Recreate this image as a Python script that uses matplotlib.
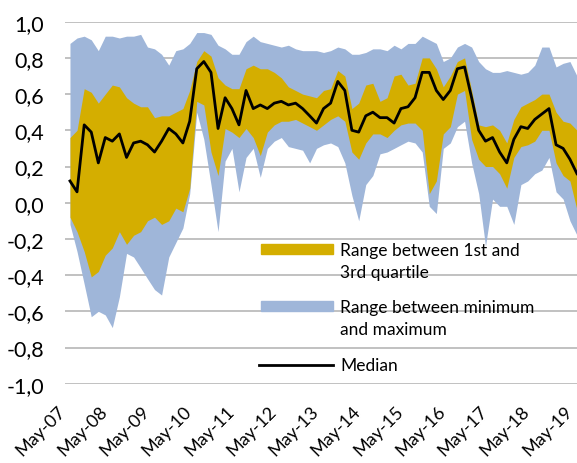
import numpy as np
import pandas as pd
import matplotlib
matplotlib.use('Agg')
import matplotlib.pyplot as plt
import matplotlib.dates as mdates
import matplotlib.transforms as mtransforms
from matplotlib.patches import Rectangle
from matplotlib.lines import Line2D

plt.rcParams['font.family'] = ['Lato', 'DejaVu Sans']

### data: bi-monthly readings, May-07 .. May-19
dates = pd.date_range('2007-05-01', '2019-05-01', freq='2MS')

maxv = [0.88, 0.91, 0.92, 0.90, 0.84, 0.92, 0.92, 0.91, 0.92, 0.92, 0.93,
        0.86, 0.85, 0.82, 0.76, 0.84, 0.85, 0.88, 0.94, 0.94, 0.93,
        0.87, 0.85, 0.82, 0.82, 0.89, 0.92, 0.89, 0.88, 0.87, 0.86,
        0.87, 0.85, 0.84, 0.84, 0.84, 0.83, 0.84, 0.86, 0.85, 0.82,
        0.82, 0.83, 0.85, 0.85, 0.84, 0.87, 0.85, 0.88, 0.88, 0.92,
        0.90, 0.88, 0.78, 0.80, 0.86, 0.88, 0.86, 0.78, 0.74, 0.72,
        0.72, 0.73, 0.72, 0.71, 0.72, 0.76, 0.86, 0.86, 0.75, 0.77,
        0.78, 0.70]

q3 = [0.36, 0.40, 0.63, 0.61, 0.55, 0.60, 0.65, 0.64, 0.58, 0.55, 0.53,
      0.53, 0.47, 0.48, 0.48, 0.50, 0.52, 0.62, 0.78, 0.84, 0.81,
      0.69, 0.65, 0.63, 0.63, 0.74, 0.76, 0.74, 0.74, 0.72, 0.69,
      0.64, 0.62, 0.60, 0.59, 0.58, 0.62, 0.63, 0.73, 0.70, 0.52,
      0.55, 0.65, 0.66, 0.56, 0.58, 0.70, 0.71, 0.65, 0.66, 0.80,
      0.80, 0.74, 0.64, 0.70, 0.78, 0.80, 0.62, 0.43, 0.42, 0.43,
      0.40, 0.33, 0.46, 0.53, 0.55, 0.57, 0.60, 0.60, 0.50, 0.45,
      0.44, 0.40]

med = [0.12, 0.06, 0.43, 0.39, 0.22, 0.36, 0.34, 0.38, 0.25, 0.33, 0.34,
       0.32, 0.28, 0.34, 0.41, 0.38, 0.33, 0.45, 0.74, 0.78, 0.72,
       0.41, 0.58, 0.52, 0.43, 0.62, 0.52, 0.54, 0.52, 0.55, 0.56,
       0.54, 0.55, 0.52, 0.48, 0.44, 0.52, 0.55, 0.67, 0.62, 0.40,
       0.39, 0.48, 0.50, 0.47, 0.47, 0.44, 0.52, 0.53, 0.58, 0.72,
       0.72, 0.62, 0.57, 0.62, 0.74, 0.75, 0.58, 0.40, 0.34, 0.36,
       0.28, 0.22, 0.35, 0.42, 0.41, 0.46, 0.49, 0.52, 0.32, 0.30,
       0.24, 0.16]

q1 = [-0.08, -0.16, -0.27, -0.41, -0.38, -0.29, -0.25, -0.16, -0.23, -0.18, -0.16,
      -0.10, -0.08, -0.12, -0.10, -0.03, -0.05, 0.08, 0.56, 0.54, 0.28,
      0.15, 0.41, 0.39, 0.36, 0.41, 0.36, 0.26, 0.39, 0.43, 0.45,
      0.45, 0.46, 0.44, 0.42, 0.40, 0.43, 0.46, 0.48, 0.45, 0.28,
      0.24, 0.33, 0.38, 0.38, 0.36, 0.40, 0.43, 0.44, 0.44, 0.40,
      0.05, 0.12, 0.38, 0.42, 0.60, 0.62, 0.35, 0.24, 0.20, 0.20,
      0.16, 0.08, 0.25, 0.31, 0.32, 0.34, 0.40, 0.40, 0.22, 0.15,
      0.12, -0.04]

minv = [-0.12, -0.27, -0.45, -0.63, -0.60, -0.62, -0.69, -0.52, -0.28, -0.30, -0.36,
        -0.42, -0.48, -0.51, -0.30, -0.22, -0.14, 0.05, 0.50, 0.35, 0.10,
        -0.16, 0.23, 0.30, 0.06, 0.25, 0.30, 0.14, 0.30, 0.34, 0.36,
        0.31, 0.30, 0.29, 0.22, 0.30, 0.32, 0.33, 0.31, 0.22, 0.04,
        -0.10, 0.10, 0.15, 0.27, 0.28, 0.30, 0.32, 0.34, 0.33, 0.28,
        -0.02, -0.06, 0.30, 0.33, 0.42, 0.45, 0.22, 0.05, -0.24, 0.02,
        -0.02, -0.02, -0.12, 0.10, 0.12, 0.16, 0.18, 0.25, 0.06, 0.02,
        -0.10, -0.18]

yticks = np.round(np.arange(-1.0, 1.01, 0.2), 1)
xticks = pd.date_range('2007-05-01', '2019-05-01', freq='12MS')

BLUE = '#9fb6d9'
GOLD = '#d4ae00'

### figure
W, H = 577, 464
fig = plt.figure(figsize=(W / 100, H / 100), dpi=100)
ax = fig.add_axes([65 / W, 1 - 384.7 / H, 1 - 65 / W, (384.7 - 22.7) / H])

ax.fill_between(dates, minv, maxv, color=BLUE, lw=0, zorder=2)
ax.fill_between(dates, q1, q3, color=GOLD, lw=0, zorder=3)
ax.plot(dates, med, color='black', lw=2.0, zorder=4)

ax.set_ylim(-1.0, 1.0)
ax.set_yticks(yticks)
ax.set_yticklabels([('%.1f' % v).replace('.', ',').replace('-0,0', '0,0') for v in yticks])
ax.set_xlim(pd.Timestamp('2007-05-01') - pd.Timedelta(days=43), pd.Timestamp('2019-05-01'))
ax.set_xticks(xticks)
ax.xaxis.set_major_formatter(mdates.DateFormatter('%b-%y'))

ax.tick_params(axis='both', length=0)
ax.tick_params(axis='y', pad=15, labelsize=15.5)
ax.tick_params(axis='x', pad=20, labelsize=13)
shift = mtransforms.ScaledTranslation(-4 / 100, 0, fig.dpi_scale_trans)
for lab in ax.get_xticklabels():
    lab.set_rotation(45)
    lab.set_ha('right')
    lab.set_va('baseline')
    lab.set_rotation_mode('anchor')
    lab.set_transform(lab.get_transform() + shift)

ax.yaxis.grid(True, color='#b0b0b0', lw=1.1)
ax.set_axisbelow(True)
for s in ax.spines.values():
    s.set_visible(False)

### legend (drawn by hand, in pixel positions)
def fx(x):
    return x / W

def fy(y):
    return 1 - y / H

fig.add_artist(Rectangle((fx(261), fy(255)), fx(72), 10 / H, color=GOLD, transform=fig.transFigure))
fig.add_artist(Rectangle((fx(261), fy(312)), fx(72), 10 / H, color=BLUE, transform=fig.transFigure))
fig.add_artist(Line2D([fx(259), fx(333)], [fy(365.5), fy(365.5)], color='black', lw=2.0,
                      transform=fig.transFigure))

lfs = 12.5
fig.text(fx(340), fy(256), 'Range between 1st and', fontsize=lfs, va='baseline')
fig.text(fx(340), fy(278), '3rd quartile', fontsize=lfs, va='baseline')
fig.text(fx(340), fy(313), 'Range between minimum', fontsize=lfs, va='baseline')
fig.text(fx(340), fy(335), 'and maximum', fontsize=lfs, va='baseline')
fig.text(fx(340), fy(371), 'Median', fontsize=lfs, va='baseline')

fig.savefig('out.png', dpi=100)
